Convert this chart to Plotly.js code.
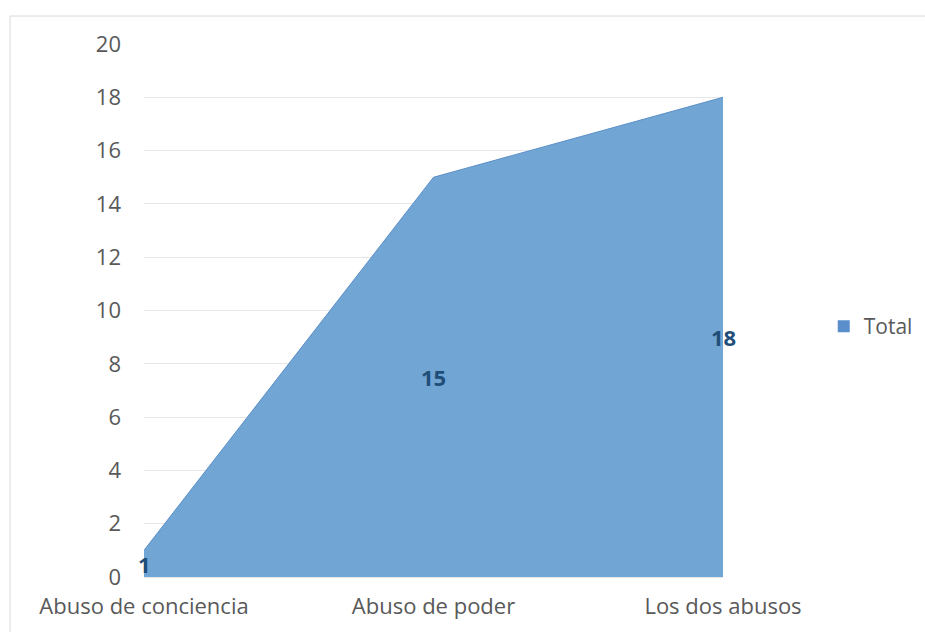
<!DOCTYPE html>
<html>
<head>
<meta charset="utf-8">
<script src="https://cdn.plot.ly/plotly-3.0.1.min.js"></script>
<style>
html,body{margin:0;padding:0;background:#fff;}
#chart{width:925px;height:632px;}
</style>
</head>
<body>
<div id="chart"></div>
<script>
var categories = ["Abuso de conciencia", "Abuso de poder", "Los dos abusos"];
var totals = [1, 15, 18];
var seriesName = "Total";
var yTicks = [0, 2, 4, 6, 8, 10, 12, 14, 16, 18, 20];

var trace = {
  x: categories,
  y: totals,
  type: "scatter",
  mode: "lines",
  fill: "tozeroy",
  name: seriesName,
  fillcolor: "rgb(113,165,212)",
  line: {color: "rgb(91,143,200)", width: 1},
  hoverinfo: "skip",
  showlegend: false
};

var legendTrace = {
  x: [null], y: [null],
  type: "bar",
  name: seriesName,
  marker: {color: "rgb(91,143,203)"},
  showlegend: true
};

var annotations = categories.map(function(c, i){
  return {
    x: i, y: totals[i] / 2, xref: "x", yref: "y",
    text: "<b>" + totals[i] + "</b>",
    showarrow: false,
    font: {family: "'Open Sans', sans-serif", size: 22, color: "rgb(31,78,121)"}
  };
});

var layout = {
  width: 925, height: 632,
  margin: {l: 144, r: 202, t: 44, b: 55, autoexpand: false},
  paper_bgcolor: "#fff",
  plot_bgcolor: "#fff",
  font: {family: "'Open Sans', sans-serif", color: "#595959", size: 21},
  xaxis: {
    type: "category",
    range: [0, 2],
    showgrid: false,
    zeroline: false,
    showline: false,
    ticks: "",
    tickfont: {size: 22, color: "#595959"},
    ticklabelstandoff: 14,
    fixedrange: true
  },
  yaxis: {
    range: [0, 20],
    tickvals: yTicks,
    showgrid: true,
    gridcolor: "#e6e6e6",
    gridwidth: 1,
    zeroline: true,
    zerolinecolor: "#e6e6e6",
    showline: false,
    ticks: "",
    tickfont: {size: 22, color: "#595959"},
    ticklabelstandoff: 22,
    fixedrange: true
  },
  legend: {
    x: 1.174, y: 0.47, xanchor: "left", yanchor: "middle",
    font: {size: 21, color: "#595959"},
    itemwidth: 30,
    tracegroupgap: 0
  },
  annotations: annotations,
  shapes: [{
    type: "rect", xref: "paper", yref: "paper",
    x0: -0.2314, x1: 1.5, y0: -0.2, y1: 1.0525,
    line: {color: "#d9d9d9", width: 1}, fillcolor: "rgba(0,0,0,0)", layer: "below"
  }],
  showlegend: true
};

Plotly.newPlot("chart", [trace, legendTrace], layout, {displayModeBar: false, staticPlot: true});
</script>
</body>
</html>
